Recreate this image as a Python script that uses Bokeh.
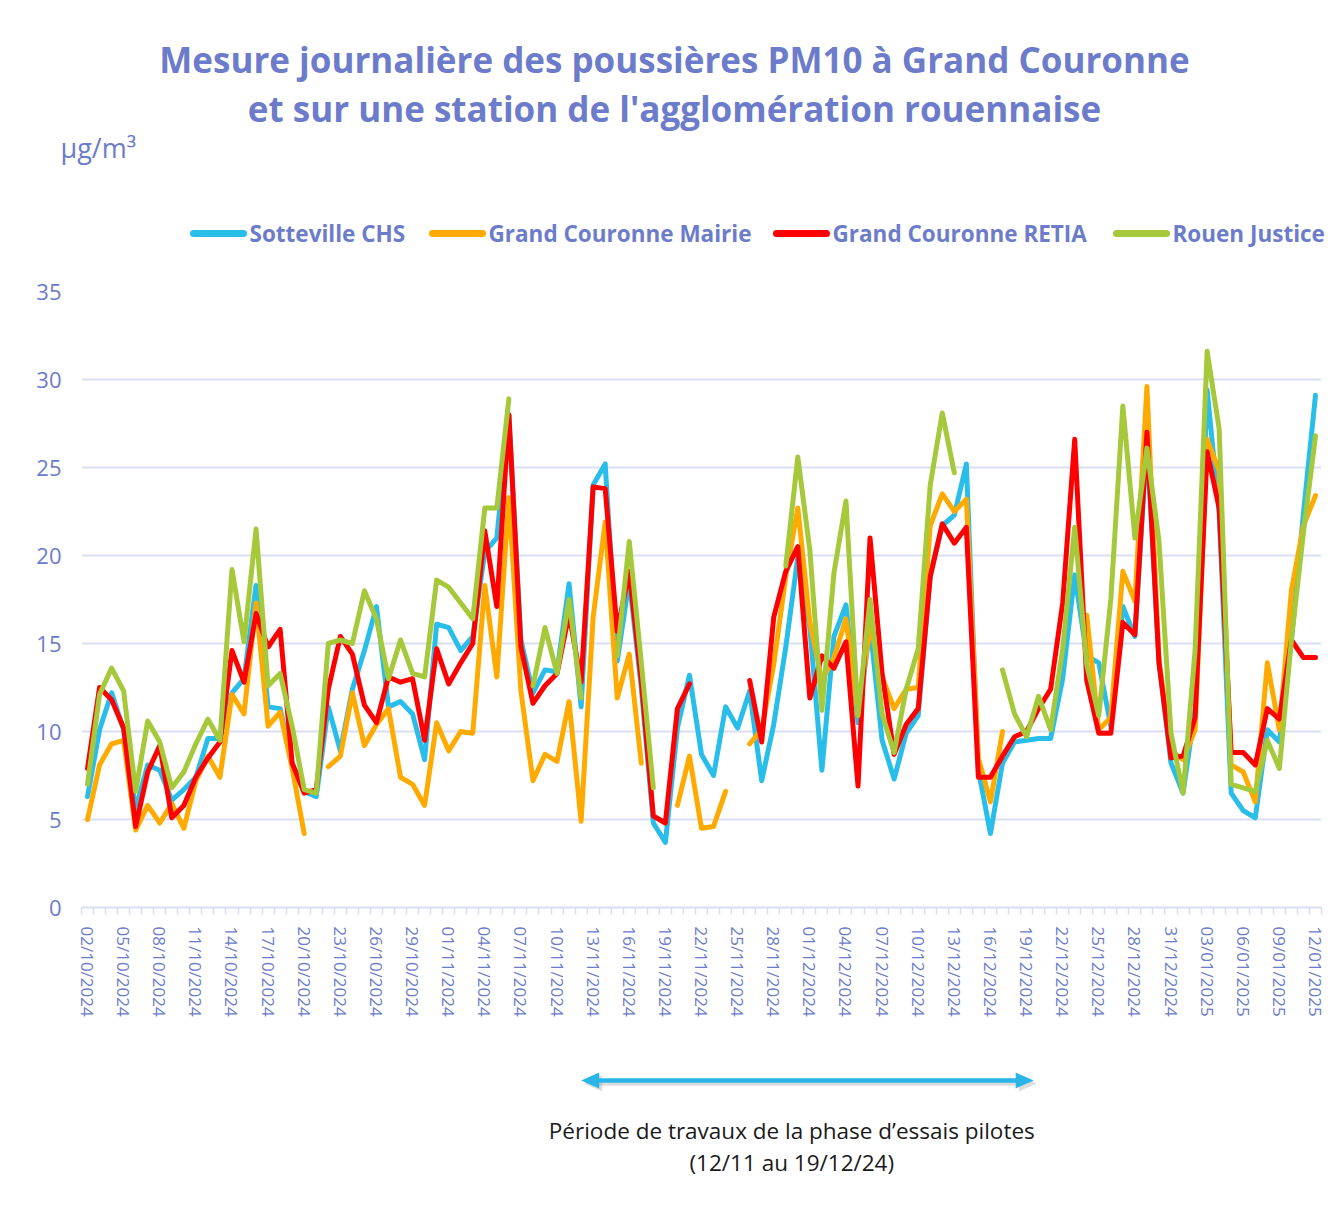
import numpy as np
import pandas as pd
from bokeh.plotting import figure
from bokeh.models import ColumnDataSource, Range1d, FixedTicker, Column
from bokeh.core.properties import value
from bokeh.embed import file_html
from bokeh.resources import INLINE

nan = float("nan")

# ---- categories (daily) -------------------------------------------------
dates = [d.strftime("%d/%m/%Y") for d in pd.date_range("2024-10-02", "2025-01-12", freq="D")]
tick_idx = list(range(0, len(dates), 3))
tick_labels = {i: dates[i] for i in tick_idx}
y_ticks = [0, 5, 10, 15, 20, 25, 30, 35]
works_start, works_end = "12/11/2024", "19/12/2024"

# ---- series (µg/m3) ------------------------------------------------------
sotteville = [
    6.3, 10.1, 12.2, 10.1, 5.6, 8.1, 7.8, 6.1, 6.7, 7.4,
    9.6, 9.6, 12.2, 13.0, 18.3, 11.4, 11.3, 8.2, 6.6, 6.3,
    11.4, 8.9, 12.4, 14.6, 17.1, 11.4, 11.7, 11.0, 8.4, 16.1,
    15.9, 14.6, 15.4, 20.2, 21.0, 28.0, 15.2, 12.2, 13.5, 13.4,
    18.4, 11.4, 24.0, 25.2, 14.0, 18.6, 12.5, 4.8, 3.7, 10.2,
    13.2, 8.7, 7.5, 11.4, 10.2, 12.3, 7.2, 10.4, 14.8, 19.9,
    15.9, 7.8, 15.4, 17.2, 10.5, 16.0, 9.5, 7.3, 9.9, 10.9,
    18.9, 21.7, 22.3, 25.2, 7.8, 4.2, 8.2, 9.4, 9.5, 9.6,
    9.6, 13.0, 18.9, 14.3, 13.9, 10.3, 17.1, 15.4, 26.5, 14.0,
    8.2, 6.5, 11.3, 29.4, 22.4, 6.5, 5.5, 5.1, 10.1, 9.4,
    15.2, 22.4, 29.1,
]
mairie = [
    5.0, 8.1, 9.3, 9.5, 4.4, 5.8, 4.8, 5.9, 4.5, 7.2,
    8.6, 7.4, 12.1, 11.0, 17.3, 10.3, 11.1, 7.9, 4.2, nan,
    8.0, 8.6, 12.2, 9.2, 10.4, 11.3, 7.4, 7.0, 5.8, 10.5,
    8.9, 10.0, 9.9, 18.3, 13.1, 23.3, 12.3, 7.2, 8.7, 8.3,
    11.7, 4.9, 16.5, 21.9, 11.9, 14.4, 8.2, nan, nan, 5.8,
    8.6, 4.5, 4.6, 6.6, nan, 9.3, 10.1, 13.8, 18.8, 22.7,
    16.2, 12.9, 14.2, 16.4, 11.0, 16.0, 13.1, 11.3, 12.4, 12.5,
    21.7, 23.5, 22.5, 23.2, 8.5, 6.0, 10.0, nan, nan, nan,
    nan, nan, nan, 16.6, 10.1, 10.8, 19.1, 17.4, 29.6, 14.0,
    8.9, 8.4, 10.1, 26.6, 24.8, 8.1, 7.7, 6.0, 13.9, 10.1,
    18.0, 21.7, 23.4,
]
retia = [
    7.9, 12.5, 11.8, 10.2, 4.6, 7.7, 9.2, 5.1, 5.8, 7.4,
    8.5, 9.4, 14.6, 12.8, 16.7, 14.8, 15.8, 8.2, 6.5, 6.7,
    12.4, 15.4, 14.4, 11.5, 10.5, 13.1, 12.8, 13.0, 9.5, 14.7,
    12.7, 13.9, 15.0, 21.4, 17.1, 28.0, 14.8, 11.6, 12.6, 13.3,
    16.7, 12.8, 23.9, 23.8, 15.7, 19.1, 12.9, 5.2, 4.8, 11.3,
    12.7, nan, nan, nan, nan, 12.9, 9.4, 16.5, 19.1, 20.5,
    11.9, 14.3, 13.6, 15.1, 6.9, 21.0, 13.3, 8.7, 10.4, 11.3,
    18.8, 21.8, 20.7, 21.6, 7.4, 7.4, 8.6, 9.7, 10.0, 11.3,
    12.4, 17.3, 26.6, 12.9, 9.9, 9.9, 16.2, 15.5, 27.0, 13.9,
    8.5, 8.6, 10.8, 25.9, 22.7, 8.8, 8.8, 8.1, 11.3, 10.7,
    15.2, 14.2, 14.2,
]
justice = [
    7.0, 12.1, 13.6, 12.3, 6.6, 10.6, 9.4, 6.8, 7.7, 9.3,
    10.7, 9.5, 19.2, 15.1, 21.5, 12.6, 13.3, 10.3, 6.7, 6.5,
    15.0, 15.2, 15.0, 18.0, 16.4, 13.0, 15.2, 13.3, 13.1, 18.6,
    18.2, 17.3, 16.4, 22.7, 22.7, 28.9, nan, 12.6, 15.9, 13.3,
    17.5, 11.9, nan, nan, 14.3, 20.8, 13.9, 6.8, nan, nan,
    nan, nan, nan, nan, nan, nan, nan, nan, 19.4, 25.6,
    20.3, 11.2, 19.0, 23.1, 10.9, 17.5, 11.0, 8.8, 12.4, 14.7,
    24.0, 28.1, 24.7, nan, nan, nan, 13.5, 11.0, 9.7, 12.0,
    10.1, 14.7, 21.6, 13.8, 10.9, 17.5, 28.5, 21.0, 26.1, 20.8,
    9.9, 6.5, 14.6, 31.6, 27.2, 7.0, 6.8, 6.6, 9.5, 7.9,
    15.2, 21.3, 26.8,
]

series_names = ["Sotteville CHS", "Grand Couronne Mairie", "Grand Couronne RETIA", "Rouen Justice"]
series_values = [sotteville, mairie, retia, justice]
series_colors = ["#29BDEA", "#FFAA00", "#FF0000", "#A6C83B"]

title_lines = ["Mesure journalière des poussières PM10 à Grand Couronne",
               "et sur une station de l'agglomération rouennaise"]
unit_text = "µg/m³"
note_lines = ["Période de travaux de la phase d’essais pilotes", "(12/11 au 19/12/24)"]

TXT = "#6C7CCA"
GRID = "#DADEF2"
ARROW = "#29B5E8"
FONT = "Open Sans"
W = 1331
HEAD_H, MAIN_H, FOOT_H = 270, 767, 163

# ---- header: title, unit, legend (page-pixel coordinates) ----------------
head = figure(width=W, height=HEAD_H, x_range=Range1d(0, W), y_range=Range1d(HEAD_H, 0),
              x_axis_location=None, y_axis_location=None, output_backend="svg",
              toolbar_location=None, min_border_left=0, min_border_right=0,
              min_border_top=0, min_border_bottom=0, outline_line_color=None)
head.grid.visible = False
head.text(x=[674, 674], y=[59, 108], text=title_lines, text_font=value(FONT),
          text_font_style="bold", text_font_size="35px", text_color=TXT,
          text_align="center", text_baseline="middle")
head.text(x=[60], y=[147], text=[unit_text], text_font=value(FONT), text_font_size="27px",
          text_color=TXT, text_align="left", text_baseline="middle")
# legend row
leg_x = [193, 432, 776, 1116]
sw_len = 50
head.segment(x0=leg_x, y0=[233] * 4, x1=[x + sw_len for x in leg_x], y1=[233] * 4,
             line_color=series_colors, line_width=7, line_cap="round")
head.text(x=[x + sw_len + 6 for x in leg_x], y=[233] * 4, text=series_names,
          text_font=value(FONT), text_font_style="bold", text_font_size="22.5px",
          text_color=TXT, text_align="left", text_baseline="middle")

# ---- main chart -----------------------------------------------------------
src = ColumnDataSource(dict(
    x=list(range(len(dates))),
    **{f"s{k}": np.array(v, dtype=float) for k, v in enumerate(series_values)}
))

p = figure(width=W, height=MAIN_H,
           x_range=Range1d(-0.5, len(dates) - 0.5), y_range=Range1d(0, 35),
           output_backend="svg", toolbar_location=None,
           min_border_left=81, min_border_right=10, min_border_top=21, min_border_bottom=130)
p.outline_line_color = None

for k, c in enumerate(series_colors):
    p.line("x", f"s{k}", source=src, line_color=c, line_width=5, line_join="round", line_cap="round")

p.xgrid.visible = False
p.ygrid.grid_line_color = GRID
p.ygrid.grid_line_width = 2
p.yaxis.ticker = FixedTicker(ticks=y_ticks)
p.yaxis.axis_line_color = None
p.yaxis.major_tick_line_color = None
p.yaxis.minor_tick_line_color = None
p.yaxis.major_tick_out = 0
p.yaxis.major_label_standoff = 20
p.yaxis.major_label_text_font_size = "22px"

p.xaxis.ticker = FixedTicker(ticks=tick_idx, minor_ticks=[i - 0.5 for i in range(len(dates) + 1)])
p.xaxis.major_label_overrides = tick_labels
p.xaxis.major_label_orientation = "vertical"
p.xaxis.axis_line_color = GRID
p.xaxis.axis_line_width = 2
p.xaxis.major_tick_line_color = None
p.xaxis.major_tick_out = 0
p.xaxis.major_tick_in = 0
p.xaxis.minor_tick_line_color = GRID
p.xaxis.minor_tick_line_width = 1.5
p.xaxis.minor_tick_out = 7
p.xaxis.minor_tick_in = 0
p.xaxis.major_label_standoff = 12
p.xaxis.major_label_text_font_size = "17px"
for ax in (p.xaxis, p.yaxis):
    ax.major_label_text_font = FONT
    ax.major_label_text_color = TXT

# ---- footer: works period arrow + note ------------------------------------
foot = figure(width=W, height=FOOT_H, x_range=p.x_range, y_range=Range1d(FOOT_H, 0),
              x_axis_location=None, y_axis_location=None, output_backend="svg",
              toolbar_location=None, min_border_left=81, min_border_right=10,
              min_border_top=0, min_border_bottom=0, outline_line_color=None)
foot.grid.visible = False
x0 = dates.index(works_start)
x1 = dates.index(works_end) + 0.6
hl, hh, ay = 1.5, 8, 43
for dx, dy, col, alpha in [(0.25, 3, "#9A9A9A", 0.35), (0, 0, ARROW, 1.0)]:
    foot.segment(x0=[x0 + hl * 0.8 + dx], y0=[ay + dy], x1=[x1 - hl * 0.8 + dx], y1=[ay + dy],
                 line_color=col, line_width=4.5, line_alpha=alpha)
    foot.patches(xs=[[x0 + dx, x0 + hl + dx, x0 + hl + dx], [x1 + dx, x1 - hl + dx, x1 - hl + dx]],
                 ys=[[ay + dy, ay - hh + dy, ay + hh + dy], [ay + dy, ay - hh + dy, ay + hh + dy]],
                 fill_color=col, line_color=None, fill_alpha=alpha)
foot.text(x=[58.5, 58.5], y=[93, 125], text=note_lines, text_font=value(FONT),
          text_font_size="22.5px", text_color="#1A1A1A", text_align="center",
          text_baseline="middle")

layout = Column(children=[Column(children=[head]), Column(children=[p, foot])], spacing=0)
open("out.html", "w").write(file_html(layout, INLINE))
